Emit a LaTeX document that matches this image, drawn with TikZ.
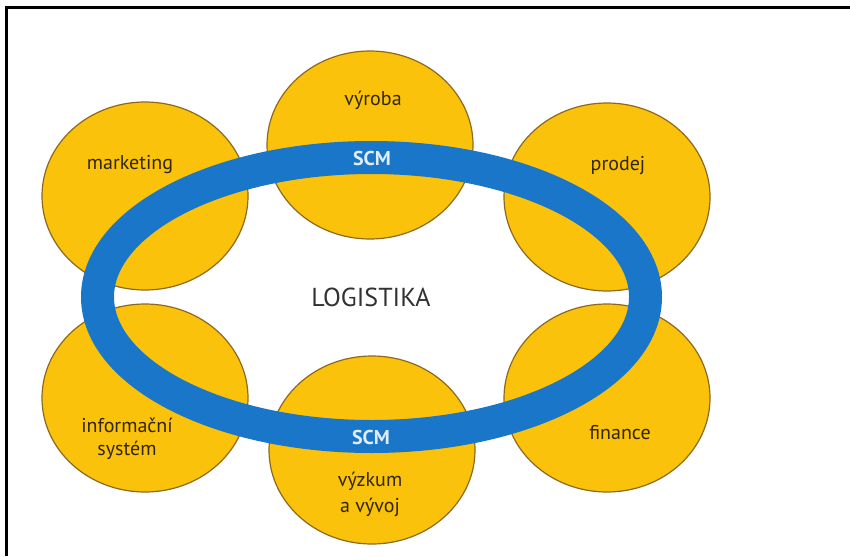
\documentclass[tikz,border=0pt]{standalone}
\usepackage{fontspec}
\setmainfont{PT Sans}
\usetikzlibrary{shapes.geometric}
\definecolor{gold}{RGB}{250,194,10}
\definecolor{goldline}{RGB}{140,105,30}
\definecolor{ringblue}{RGB}{25,118,200}
\definecolor{labeltext}{RGB}{50,38,8}
\definecolor{logtext}{RGB}{50,50,50}
\definecolor{scmtext}{RGB}{225,238,250}
\tikzset{
  dept/.style={ellipse, fill=gold, draw=goldline, line width=1.2pt,
    minimum width=206pt, minimum height=188pt, inner sep=0pt, outer sep=0pt},
  lbl/.style={text=labeltext, font=\fontsize{20}{24}\selectfont, align=center, inner sep=0pt},
  scm/.style={text=scmtext, font=\bfseries\fontsize{20}{24}\selectfont, inner sep=0pt},
  ring/.style={draw=ringblue, line width=33pt},
  frame/.style={line width=2.5pt, black}
}
\begin{document}
\begin{tikzpicture}[x=1pt,y=-1pt]
\useasboundingbox (0,0) rectangle (850,556);
\fill[white] (0,0) rectangle (850,556);
% frame
\coordinate (ftl) at (6.5,7.5);
\coordinate (ftr) at (850,7.5);
\coordinate (fbl) at (6.5,556);
\draw[frame] (ftr) -- (ftl) -- (fbl);
% departments
\node[dept] (vyroba) at (370,145) {};
\node[dept] (marketing) at (145,196) {};
\node[dept] (prodej) at (607,197) {};
\node[dept] (infosys) at (145,398) {};
\node[dept] (finance) at (607,398) {};
\node[dept] (vyzkum) at (372,450) {};
% SCM ring
\draw[ring] (371.5,297) ellipse [x radius=274pt, y radius=139.5pt];
% labels
\node[lbl] (tvyroba) at (373,100) {výroba};
\node[lbl] (tmarketing) at (130,165) {marketing};
\node[lbl] (tprodej) at (618,166) {prodej};
\node[lbl] (tinfosys) at (127,438.5) {informační\\[-1pt]systém};
\node[lbl] (tfinance) at (620,433) {finance};
\node[lbl] (tvyzkum) at (370,494) {výzkum\\[2pt]a vývoj};
\node[scm] (scmtop) at (372,158) {SCM};
\node[scm] (scmbot) at (371,437) {SCM};
\node[text=logtext, font=\fontsize{26}{30}\selectfont, inner sep=0pt] (logistika) at (371,297) {LOGISTIKA};
\end{tikzpicture}
\end{document}
